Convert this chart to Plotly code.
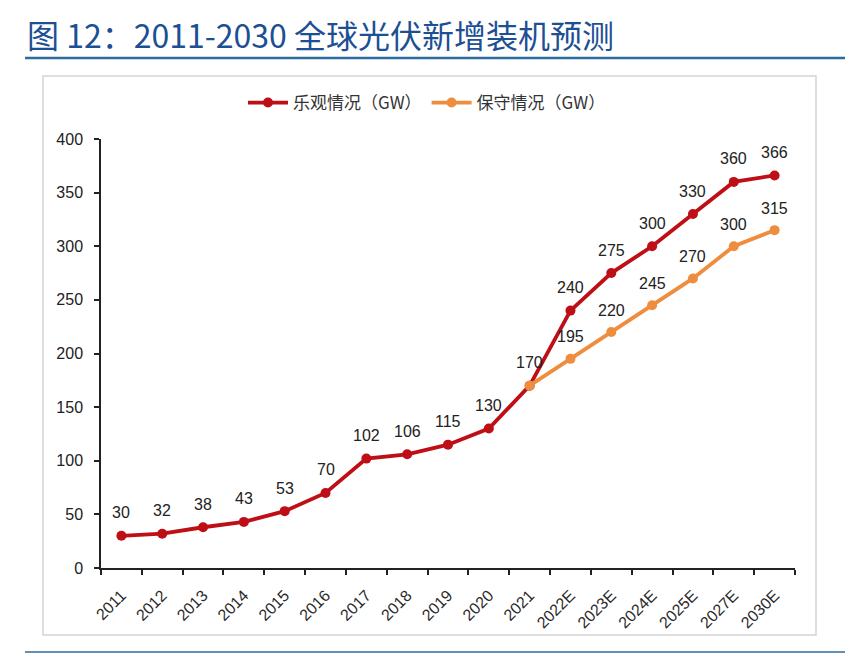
import plotly.graph_objects as go

categories = ["2011", "2012", "2013", "2014", "2015", "2016", "2017", "2018", "2019",
              "2020", "2021", "2022E", "2023E", "2024E", "2025E", "2027E", "2030E"]
optimistic = [30, 32, 38, 43, 53, 70, 102, 106, 115, 130, 170, 240, 275, 300, 330, 360, 366]
conservative_cats = ["2021", "2022E", "2023E", "2024E", "2025E", "2027E", "2030E"]
conservative = [170, 195, 220, 245, 270, 300, 315]
conservative_labels = ["", "195", "220", "245", "270", "300", "315"]
y_ticks = [0, 50, 100, 150, 200, 250, 300, 350, 400]

W, H = 847, 654
L, R, T, B = 101, 795, 139, 568

def px_x(p):
    return (p - L) / (R - L)

def px_y(p):
    return (B - p) / (B - T)

RED = "#BE0F17"
ORANGE = "#EF8D3E"
NUM_FONT = "Liberation Sans, Arial, sans-serif"
CJK_FONT = "Noto Sans CJK SC, sans-serif"

fig = go.Figure()
fig.add_trace(go.Scatter(
    x=categories, y=optimistic, name="乐观情况（GW）",
    mode="lines+markers",
    line=dict(color=RED, width=3.8),
    marker=dict(color=RED, size=10),
    cliponaxis=False,
))
fig.add_trace(go.Scatter(
    x=conservative_cats, y=conservative, name="保守情况（GW）",
    mode="lines+markers",
    line=dict(color=ORANGE, width=3.8),
    marker=dict(color=ORANGE, size=10),
    cliponaxis=False,
))

annotations = []
for c, v in zip(categories, optimistic):
    annotations.append(dict(x=categories.index(c), y=v, xref="x", yref="y", text=str(v),
                            showarrow=False, yshift=23,
                            font=dict(family=NUM_FONT, size=16, color="#222222")))
for c, v, t in zip(conservative_cats, conservative, conservative_labels):
    if t:
        annotations.append(dict(x=categories.index(c), y=v, xref="x", yref="y", text=t,
                                showarrow=False, yshift=22,
                                font=dict(family=NUM_FONT, size=16, color="#222222")))

shapes = [
    dict(type="rect", xref="paper", yref="paper",
         x0=px_x(43), x1=px_x(816), y0=px_y(635), y1=px_y(76),
         line=dict(color="#D4D4D4", width=1.5), fillcolor="rgba(0,0,0,0)", layer="below"),
    dict(type="line", xref="paper", yref="paper",
         x0=px_x(25), x1=px_x(845), y0=px_y(58), y1=px_y(58),
         line=dict(color="#2B6C9C", width=2.5)),
    dict(type="line", xref="paper", yref="paper",
         x0=px_x(25), x1=px_x(845), y0=px_y(652), y1=px_y(652),
         line=dict(color="#2B6C9C", width=1.5)),
]

fig.update_layout(
    width=W, height=H,
    margin=dict(l=L, r=W - R, t=T, b=H - B, pad=0),
    paper_bgcolor="white", plot_bgcolor="white",
    showlegend=True,
    legend=dict(orientation="h", x=px_x(427), xanchor="center",
                y=px_y(103), yanchor="middle",
                font=dict(family=CJK_FONT, size=17, color="#333333"),
                bgcolor="rgba(0,0,0,0)", itemwidth=40, tracegroupgap=30),
    title=dict(text="图 12：2011-2030 全球光伏新增装机预测",
               x=27 / W, xanchor="left", xref="container",
               y=1 - 37 / H, yanchor="middle", yref="container",
               font=dict(family=CJK_FONT, size=32, color="#1D4F94")),
    xaxis=dict(
        type="category", categoryorder="array", categoryarray=categories,
        range=[-0.5, len(categories) - 0.5],
        showline=True, linecolor="#222222", linewidth=1.5,
        ticks="outside", ticklen=5, tickcolor="#222222", tickwidth=1.5,
        tickson="boundaries", tickangle=-45, ticklabelstandoff=10,
        tickfont=dict(family=NUM_FONT, size=16, color="#2A2A2A"),
        showgrid=False, zeroline=False,
    ),
    yaxis=dict(
        range=[0, 400], tickvals=y_ticks,
        showline=True, linecolor="#222222", linewidth=1.5,
        ticks="outside", ticklen=5, tickcolor="#222222", tickwidth=1.5,
        ticklabelstandoff=8,
        tickfont=dict(family=NUM_FONT, size=16, color="#222222"),
        showgrid=False, zeroline=False,
    ),
    shapes=shapes,
    annotations=annotations,
)

fig.write_html("out.html", config={"displayModeBar": False},
               post_script="document.body.style.margin='0';document.body.style.padding='0';")
